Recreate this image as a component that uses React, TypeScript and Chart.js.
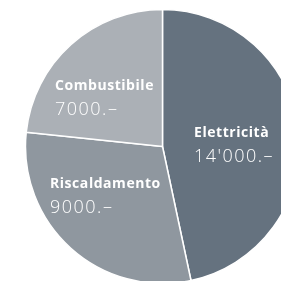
import React, { useEffect, useRef } from "react";
import { Chart, registerables } from "chart.js";

Chart.register(...registerables);

const categories = ["Elettricità", "Riscaldamento", "Combustibile"];
const values = [14000, 9000, 7000];
const valueLabels = ["14'000.–", "9000.–", "7000.–"];
const colors = ["#65727f", "#8f979f", "#abb0b6"];
// label anchors: left x / bold-line baseline, relative to pie centre
const labelOffsets = [
  { dx: 31.5, dy: -10 },
  { dx: -112.5, dy: 41 },
  { dx: -107.5, dy: -57 },
];

const labelPlugin = {
  id: "sliceLabels",
  afterDatasetsDraw(chart: any) {
    const ctx = chart.ctx;
    const meta = chart.getDatasetMeta(0);
    meta.data.forEach((arc: any, i: number) => {
      const o = labelOffsets[i];
      const x = arc.x + o.dx;
      const y = arc.y + o.dy;
      ctx.save();
      ctx.fillStyle = "#ffffff";
      ctx.textAlign = "left";
      ctx.textBaseline = "alphabetic";
      ctx.font = "bold 14px 'Open Sans', sans-serif";
      (ctx as any).letterSpacing = "0.55px";
      ctx.fillText(categories[i], x, y);
      ctx.font = "300 18px 'Open Sans', sans-serif";
      (ctx as any).letterSpacing = "1.5px";
      ctx.fillText(valueLabels[i], x, y + 25);
      ctx.restore();
    });
  },
};

export default function App() {
  const ref = useRef<HTMLCanvasElement | null>(null);
  useEffect(() => {
    if (!ref.current) return;
    const chart = new Chart(ref.current, {
      type: "pie",
      data: {
        labels: categories,
        datasets: [
          {
            data: values,
            backgroundColor: colors,
            borderColor: "#ffffff",
            borderWidth: 1.5,
            radius: 137,
          } as any,
        ],
      },
      options: {
        responsive: false,
        animation: false,
        layout: { padding: { left: 44, top: 12, right: 0, bottom: 0 } },
        plugins: {
          legend: { display: false },
          tooltip: { enabled: false },
        },
      },
      plugins: [labelPlugin],
    });
    return () => chart.destroy();
  }, []);
  return (
    <canvas
      ref={ref}
      width={281}
      height={281}
      style={{ position: "fixed", left: 0, top: 0, width: 281, height: 281, background: "#ffffff" }}
    />
  );
}
